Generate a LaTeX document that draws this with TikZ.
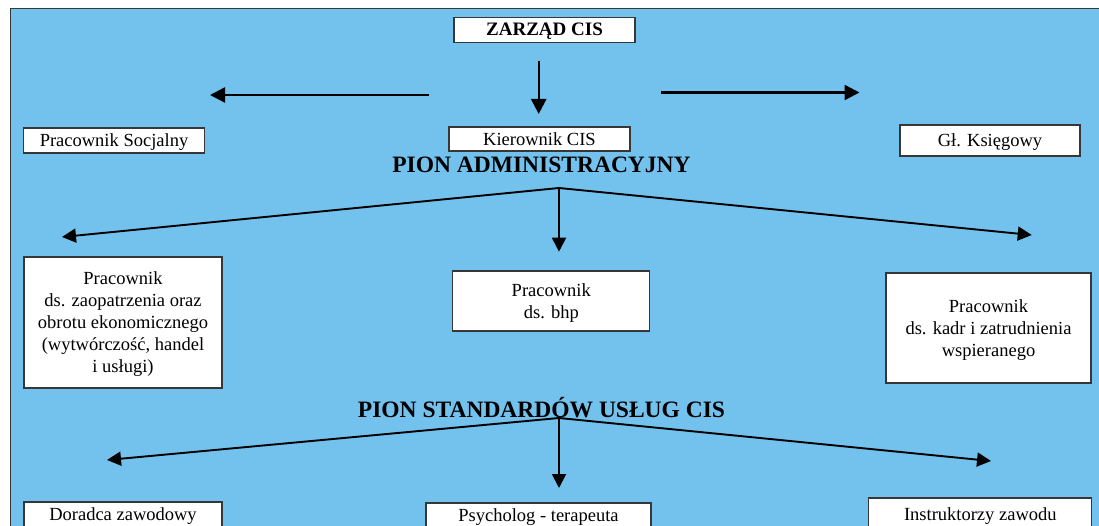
\documentclass[tikz,border=0pt]{standalone}
\usepackage{fontspec}
\setmainfont{Liberation Serif}
\usetikzlibrary{arrows.meta}
\definecolor{tlo}{RGB}{115,194,238}
\definecolor{ramka}{RGB}{55,55,55}
\begin{document}
\begin{tikzpicture}[x=1pt,y=-1pt,
  box/.style={draw=ramka,fill=white,line width=1.1pt,inner sep=0pt,align=center,font=\fontsize{18.5}{22}\selectfont},
  jeden/.style={text height=12.5pt,text depth=0pt},
  pion/.style={font=\fontsize{23.5}{26}\selectfont\bfseries,inner sep=0pt,anchor=base},
  arr/.style={line width=2.4pt,-{Triangle[length=15pt,width=15pt]}},
  branch/.style={line width=1.9pt,-{Triangle[length=14pt,width=14pt]}}]
\useasboundingbox (0,0) rectangle (1099,526);
\fill[white] (0,0) rectangle (1099,526);
\draw[fill=tlo,draw=ramka,line width=1.2pt] (10.5,8.5) rectangle (1110,540);
% gora
\node[box,jeden,minimum width=181,minimum height=25,font=\fontsize{19}{22}\selectfont\bfseries] (zarzad) at (544.5,29.7) {ZARZĄD CIS};
\node[box,jeden,minimum width=181,minimum height=25] (socjalny) at (114,140.5) {Pracownik Socjalny};
\node[box,jeden,minimum width=181,minimum height=24] (kierownik) at (539.5,139) {Kierownik CIS};
\node[box,jeden,minimum width=180,minimum height=31] (ksiegowy) at (990,140.5) {Gł. Księgowy};
\coordinate (zd1) at (538.7,60.7);
\coordinate (zd2) at (538.7,114);
\coordinate (zl1) at (429,95);
\coordinate (zl2) at (210,95);
\coordinate (zp1) at (660.5,92.5);
\coordinate (zp2) at (859.5,92.5);
\draw[arr] (zd1) -- (zd2);
\draw[arr] (zl1) -- (zl2);
\draw[arr] (zp1) -- (zp2);
% pion administracyjny
\node[pion] (padm) at (541.5,173) {PION ADMINISTRACYJNY};
\coordinate (pa) at (559,188);
\coordinate (pal) at (62,237);
\coordinate (pad) at (559,251.7);
\coordinate (pap) at (1031.7,235);
\draw[branch] (pa) -- (pal);
\draw[branch] (pa) -- (pad);
\draw[branch] (pa) -- (pap);
\node[box,minimum width=198,minimum height=131,text depth=-12pt] (zaopatrz) at (123,322.5) {Pracownik\\ ds. zaopatrzenia oraz\\obrotu ekonomicznego\\(wytwórczość, handel\\i usługi)};
\node[box,minimum width=197,minimum height=60,text depth=-1pt] (bhp) at (551.3,301) {Pracownik\\ds. bhp};
\node[box,minimum width=205,minimum height=110,text depth=-1pt] (kadry) at (988.5,328) {Pracownik\\ds. kadr i zatrudnienia\\wspieranego};
% pion standardow
\node[pion] (pstd) at (541.5,417) {PION STANDARDÓW USŁUG CIS};
\coordinate (ps) at (559,418);
\coordinate (psl) at (107,460);
\coordinate (psd) at (559,488);
\coordinate (psp) at (991,461);
\draw[branch] (ps) -- (psl);
\draw[branch] (ps) -- (psd);
\draw[branch] (ps) -- (psp);
\node[box,minimum width=198,minimum height=28] (doradca) at (123,516) {Doradca zawodowy};
\node[box,minimum width=225,minimum height=28] (psycholog) at (538.5,517) {Psycholog - terapeuta};
\node[box,minimum width=223,minimum height=36] (instruktor) at (980.3,516) {Instruktorzy zawodu};
\end{tikzpicture}
\end{document}
